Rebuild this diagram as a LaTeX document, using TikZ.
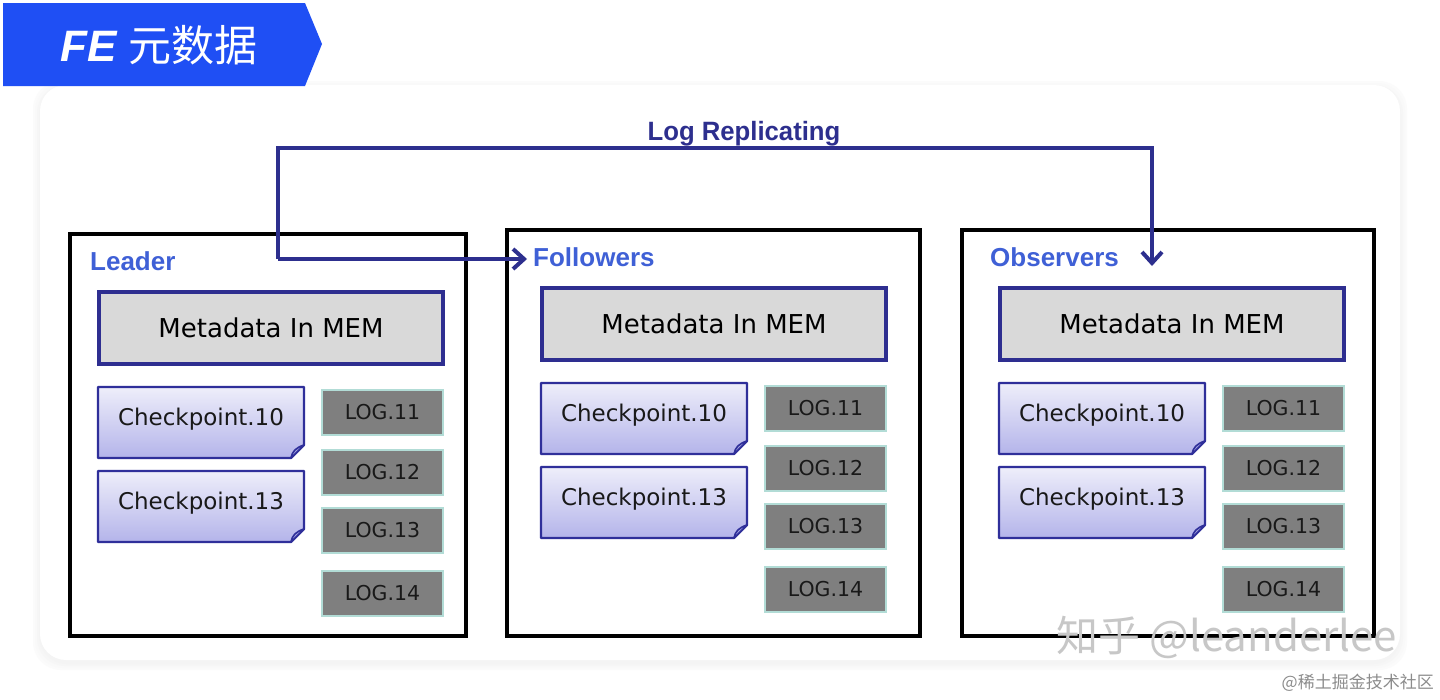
\documentclass[tikz,border=0pt]{standalone}
\usepackage{fontspec}
\usetikzlibrary{arrows.meta,calc}
\newfontfamily\cjk{Noto Sans CJK SC}
\newfontfamily\dvs{DejaVu Sans}
\newfontfamily\libs{Liberation Sans}
\newfontfamily\narrowf[FakeStretch=0.97]{Liberation Sans}
\definecolor{banner}{HTML}{1F4FF4}
\definecolor{lblue}{HTML}{3F60D6}
\definecolor{navy}{HTML}{2D2F8E}
\definecolor{metafill}{HTML}{D9D9D9}
\definecolor{metaline}{HTML}{2E2E90}
\definecolor{cktop}{HTML}{EEEEFA}
\definecolor{ckbot}{HTML}{B4B4EA}
\definecolor{ckline}{HTML}{2F2F9A}
\definecolor{ckfold}{HTML}{A4A4E2}
\definecolor{logfill}{HTML}{7F7F7F}
\definecolor{logline}{HTML}{B2DCD6}
\newcommand\ckpt[4]{% name, cx, cy, text
  \coordinate (#1-c) at (#2,#3);
  \shade[top color=cktop,bottom color=ckbot,draw=ckline,line width=2.2pt,line join=round]
    ($(#1-c)+(-103,-35.5)$) -- ($(#1-c)+(103,-35.5)$) -- ($(#1-c)+(103,22.5)$)
    -- ($(#1-c)+(90,35.5)$) -- ($(#1-c)+(-103,35.5)$) -- cycle;
  \filldraw[fill=ckfold,draw=ckline,line width=1.6pt,line join=round]
    ($(#1-c)+(103,22.5)$) -- ($(#1-c)+(90,35.5)$)
    .. controls ($(#1-c)+(91,29)$) and ($(#1-c)+(95,25)$) .. cycle;
  \node[cktext] (#1) at ($(#1-c)+(0,-3)$) {#4};
}
\newcommand\panelc[3]{% prefix, dx, dy
  \begin{scope}[shift={(#2,#3)}]
    \node[meta] (#1-meta) at (714,324) {Metadata In MEM};
    \ckpt{#1-ck10}{644}{418.5}{Checkpoint.10}
    \ckpt{#1-ck13}{644}{502.5}{Checkpoint.13}
    \node[logbox] (#1-log11) at (825.5,408.5) {LOG.11};
    \node[logbox] (#1-log12) at (825.5,468.5) {LOG.12};
    \node[logbox] (#1-log13) at (825.5,526.5) {LOG.13};
    \node[logbox] (#1-log14) at (825.5,589.5) {LOG.14};
  \end{scope}
}
\begin{document}
\begin{tikzpicture}[x=1pt,y=-1pt,
  meta/.style={draw=metaline,fill=metafill,line width=4pt,minimum width=344pt,minimum height=72pt,inner sep=0pt,font=\dvs\fontsize{26}{30}\selectfont},
  cktext/.style={inner sep=0pt,text=black!90,font=\dvs\fontsize{23}{26}\selectfont},
  logbox/.style={draw=logline,fill=logfill,line width=2pt,minimum width=121pt,minimum height=45pt,inner sep=0pt,text=black!90,font=\dvs\fontsize{20.5}{24}\selectfont},
  frame/.style={draw=black,line width=3.5pt,inner sep=0pt},
  role/.style={anchor=west,inner sep=0pt,text=lblue,font=\libs\bfseries\fontsize{26}{30}\selectfont},
  arr/.style={draw=navy,line width=4.5pt,-{Straight Barb[length=11pt,width=20pt,line width=4pt]}},
]
\useasboundingbox (0,0) rectangle (1440,699);
\fill[white] (0,0) rectangle (1440,699);
% panel with faint shadow
\foreach \o/\c in {7/black!1.5,5/black!2.5,3/black!3.5,1/black!4.5}
  \fill[\c,rounded corners=28pt] (40-\o,85-\o+3) rectangle (1400+\o,660+\o+3);
\fill[white,rounded corners=26pt] (40,85) rectangle (1400,660);
% banner
\fill[banner] (3,3) -- (305,3) -- (322,44) -- (305,86) -- (3,86) -- cycle;
\node[anchor=west,inner sep=0pt,text=white] (title) at (60,45)
  {{\libs\bfseries\itshape\fontsize{44}{50}\selectfont FE}\hspace{12pt}{\cjk\fontsize{43}{50}\selectfont 元数据}};
% frames
\node[frame,minimum width=396pt,minimum height=402pt] (L-box) at (268,435) {};
\node[frame,minimum width=413pt,minimum height=406pt] (F-box) at (713.5,433) {};
\node[frame,minimum width=412pt,minimum height=406pt] (O-box) at (1168,433) {};
\node[role] (L-label) at (90,261) {Leader};
\node[role] (F-label) at (533,257) {Followers};
\node[role] (O-label) at (990,257) {Observers};
% contents
\panelc{L}{-443}{4}
\panelc{F}{0}{0}
\panelc{O}{458}{0}
% replication arrows
\coordinate (src) at (278,259);
\coordinate (rt) at (1152,148);
\coordinate (obs-in) at (1152,266);
\coordinate (fol-in) at (527,259);
\draw[arr,line join=miter] (src) |- (rt) -- (obs-in);
\draw[arr] (src) -- (fol-in);
\node[inner sep=0pt,text=navy,font=\narrowf\bfseries\fontsize{26.5}{30}\selectfont] (logrep) at (744,134) {Log Replicating};
% watermarks
\node[anchor=west,inner sep=0pt,text=black!22,font=\cjk\fontsize{42}{48}\selectfont] (wm) at (1056,637) {知乎 @leanderlee};
\node[anchor=east,inner sep=0pt,text=black!45,font=\cjk\fontsize{17}{20}\selectfont] (wm2) at (1434,683) {@稀土掘金技术社区};
\end{tikzpicture}
\end{document}
